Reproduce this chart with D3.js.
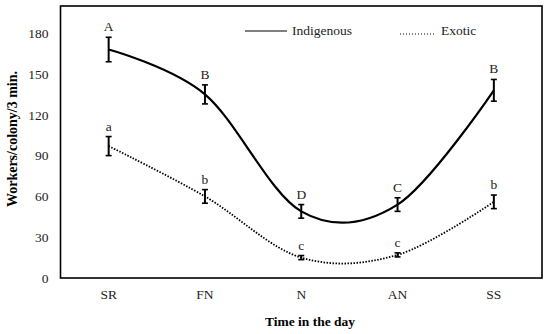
<!DOCTYPE html>
<html><head><meta charset="utf-8">
<script src="https://cdn.jsdelivr.net/npm/d3@7"></script>
<style>body{margin:0;background:#fff;} svg{display:block;} svg text{font-family:"Liberation Serif","Times New Roman",serif;}</style>
</head><body>
<svg id="chart" width="550" height="334"></svg>
<script>
const categories = ["SR", "FN", "N", "AN", "SS"];
const indigenous = [168, 135, 49, 54, 138];
const indigenousErr = [9, 7, 5, 5, 8];
const indigenousLetters = ["A", "B", "D", "C", "B"];
const exotic = [97, 60, 15, 17, 56];
const exoticErr = [7, 5, 1.5, 1.5, 5];
const exoticLetters = ["a", "b", "c", "c", "b"];
const yTicks = [0, 30, 60, 90, 120, 150, 180];

const svg = d3.select("#chart");
const m = {left: 60.5, right: 542, top: 6, bottom: 278};
const font = '"Liberation Serif", "Times New Roman", serif';

const x = d3.scaleBand().domain(categories).range([m.left, m.right]);
const xc = d => x(d) + x.bandwidth() / 2;
const y = d3.scaleLinear().domain([0, 200]).range([m.bottom, m.top]);

// frame
svg.append("rect").attr("x", m.left).attr("y", m.top)
  .attr("width", m.right - m.left).attr("height", m.bottom - m.top)
  .attr("fill", "none").attr("stroke", "#000").attr("stroke-width", 1.6);

// y axis
const yAxis = d3.axisLeft(y).tickValues(yTicks).tickSize(0).tickPadding(12);
const gy = svg.append("g").attr("transform", `translate(${m.left},0)`).call(yAxis);
gy.attr("font-family", null);
gy.select(".domain").remove();
gy.selectAll("text").style("font-family", font).style("font-size", "13.5px").attr("fill", "#222");

// x axis
const xAxis = d3.axisBottom(x).tickSize(0).tickPadding(11);
const gx = svg.append("g").attr("transform", `translate(0,${m.bottom})`).call(xAxis);
gx.attr("font-family", null);
gx.select(".domain").remove();
gx.selectAll("text").style("font-family", font).style("font-size", "13.5px").attr("fill", "#222");

// axis titles
svg.append("text").attr("x", 310).attr("y", 326).attr("text-anchor", "middle")
  .style("font-family", font).style("font-size", "13.5px").attr("font-weight", "bold")
  .text("Time in the day");
svg.append("text").attr("transform", `translate(17,139) rotate(-90)`)
  .attr("text-anchor", "middle").style("font-family", font).style("font-size", "14px")
  .attr("font-weight", "bold").text("Workers/colony/3 min.");

const line = d3.line().x((d, i) => xc(categories[i])).y(d => y(d))
  .curve(d3.curveCardinal.tension(0));

function series(vals, errs, letters, dash, width) {
  svg.append("path").datum(vals).attr("d", line).attr("fill", "none")
    .attr("stroke", "#000").attr("stroke-width", width)
    .attr("stroke-dasharray", dash);
  const g = svg.append("g");
  vals.forEach((v, i) => {
    const cx = xc(categories[i]);
    const top = y(v + errs[i]), bot = y(v - errs[i]);
    g.append("line").attr("x1", cx).attr("x2", cx).attr("y1", top).attr("y2", bot)
      .attr("stroke", "#000").attr("stroke-width", 2);
    [top, bot].forEach(yy => g.append("line").attr("x1", cx - 3).attr("x2", cx + 3)
      .attr("y1", yy).attr("y2", yy).attr("stroke", "#000").attr("stroke-width", 1.6));
    g.append("text").attr("x", cx).attr("y", top - 6).attr("text-anchor", "middle")
      .style("font-family", font).style("font-size", "13.5px").attr("fill", "#222").text(letters[i]);
  });
}
series(indigenous, indigenousErr, indigenousLetters, null, 2.2);
series(exotic, exoticErr, exoticLetters, "1.5,1.5", 1.8);

// legend
const lg = svg.append("g");
lg.append("line").attr("x1", 245).attr("x2", 287).attr("y1", 31).attr("y2", 31)
  .attr("stroke", "#000").attr("stroke-width", 1.2);
lg.append("text").attr("x", 292).attr("y", 35).style("font-family", font)
  .style("font-size", "13.5px").attr("fill", "#222").text("Indigenous");
lg.append("line").attr("x1", 400).attr("x2", 434).attr("y1", 34).attr("y2", 34)
  .attr("stroke", "#000").attr("stroke-width", 1).attr("stroke-dasharray", "1,2");
lg.append("text").attr("x", 441).attr("y", 35).style("font-family", font)
  .style("font-size", "13.5px").attr("fill", "#222").text("Exotic");
</script>
</body></html>
